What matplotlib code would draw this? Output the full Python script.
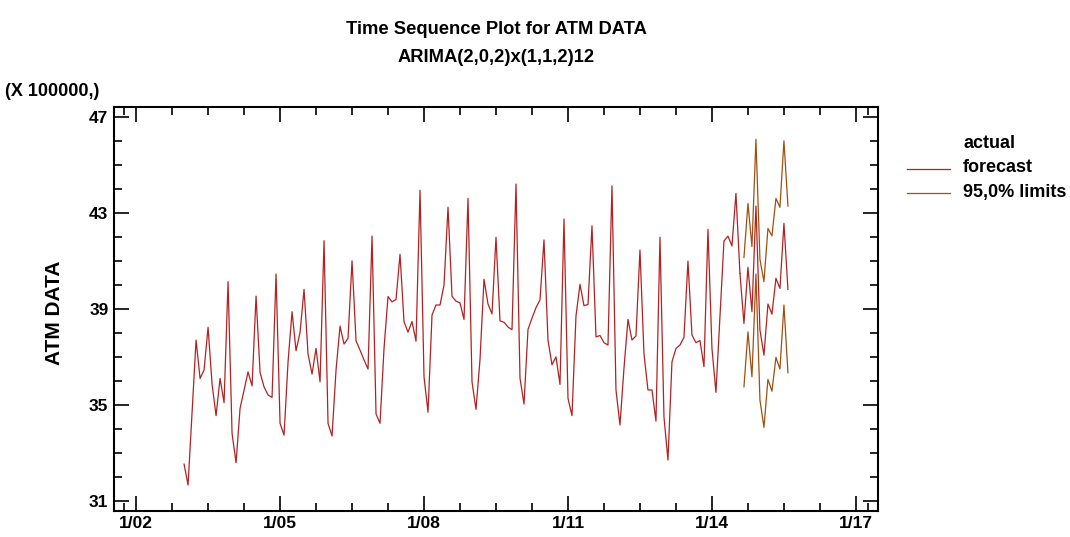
import matplotlib
matplotlib.use("Agg")
import matplotlib.pyplot as plt
from matplotlib.lines import Line2D

plt.rcParams['font.family'] = ['Liberation Sans', 'DejaVu Sans']
plt.rcParams['font.weight'] = 'bold'

# ---- data (units of 100000), monthly from Jan 2003 ----
start_year = 2003
actual = [32.54, 31.67, 34.7, 37.71, 36.11, 36.46, 38.24, 35.88, 34.56, 36.11, 35.1, 40.14,
          33.82, 32.6, 34.86, 35.63, 36.38, 35.8, 39.54, 36.36, 35.76, 35.42, 35.32, 40.46,
          34.24, 33.75, 36.8, 38.89, 37.26, 38.03, 39.82, 37.13, 36.29, 37.36, 35.97, 41.85,
          34.24, 33.71, 36.46, 38.29, 37.54, 37.78, 41.01, 37.68, 37.29, 36.88, 36.5, 42.04,
          34.63, 34.24, 37.36, 39.52, 39.3, 39.4, 41.28, 38.47, 38.04, 38.48, 37.66, 43.95,
          36.18, 34.7, 38.75, 39.17, 39.17, 40.0, 43.24, 39.53, 39.33, 39.26, 38.57, 43.61,
          35.97, 34.82, 36.9, 40.24, 39.21, 38.8, 41.99, 38.51, 38.45, 38.25, 38.14, 44.21,
          36.13, 35.04, 38.15, 38.62, 39.06, 39.38, 41.88, 37.71, 36.68, 37.01, 35.86, 42.75,
          35.28, 34.56, 38.71, 40.03, 39.14, 39.19, 42.47, 37.84, 37.9, 37.6, 37.5, 44.13,
          35.63, 34.17, 36.53, 38.57, 37.71, 37.88, 41.46, 37.13, 35.63, 35.63, 34.33, 41.99,
          34.51, 32.71, 36.8, 37.36, 37.5, 37.82, 41.0, 37.92, 37.6, 37.69, 36.6, 42.32,
          37.36, 35.53, 38.68, 41.83, 42.04, 41.63, 43.82, 40.49]
forecast = [38.40, 40.74, 38.89, 43.29, 38.13, 37.08, 39.21, 38.79, 40.28, 39.86, 42.57, 39.82]
upper = [41.15, 43.40, 41.60, 46.07, 41.07, 40.14, 42.36, 42.05, 43.61, 43.24, 46.01, 43.29]
lower = [35.76, 38.05, 36.18, 40.46, 35.21, 34.07, 36.07, 35.58, 36.99, 36.50, 39.17, 36.35]

xtick_years = [2002, 2005, 2008, 2011, 2014, 2017]
xtick_labels = ['1/02', '1/05', '1/08', '1/11', '1/14', '1/17']
ytick_vals = [31, 35, 39, 43, 47]

red = '#B22222'
brown = '#A0500F'

t_act = [start_year + i / 12 for i in range(len(actual))]
n0 = len(actual)
t_fc = [start_year + (n0 + i) / 12 for i in range(len(forecast))]

fig = plt.figure(figsize=(10.7, 5.37), dpi=100)
ax = fig.add_axes([114/1070, 1 - 510.7/537, (878-114)/1070, (510.7-106.7)/537])

ax.plot(t_act, actual, color=red, lw=0.9)
ax.plot([t_act[-1]] + t_fc, [actual[-1]] + forecast, color=red, lw=0.9)
ax.plot(t_fc, upper, color=brown, lw=0.9)
ax.plot(t_fc, lower, color=brown, lw=0.9)

ax.set_xlim(2001.54, 2017.46)
ax.set_ylim(30.6, 47.43)

ax.set_xticks(xtick_years)
ax.set_xticklabels(xtick_labels)
ax.set_xticks([y + 0.75 * k for y in xtick_years[:-1] for k in (1, 2, 3)] + [2001.75, 2017.25], minor=True)
ax.set_yticks(ytick_vals)
ax.set_yticks([v for v in range(31, 48) if v not in ytick_vals], minor=True)

ax.tick_params(which='both', direction='in', top=True, right=True, width=1.2,
               labelsize=12.5, colors='black', pad=4)
ax.tick_params(which='major', length=11)
ax.tick_params(which='minor', length=6)
for lab in ax.get_xticklabels() + ax.get_yticklabels():
    lab.set_fontweight('bold')
for s in ax.spines.values():
    s.set_linewidth(1.5)

fig.text(496/1070, 1 - 30/537, 'Time Sequence Plot for ATM DATA', ha='center', va='center',
         fontsize=13.2, fontweight='bold')
fig.text(496/1070, 1 - 58/537, 'ARIMA(2,0,2)x(1,1,2)12', ha='center', va='center',
         fontsize=13.2, fontweight='bold')
fig.text(5/1070, 1 - 91/537, '(X 100000,)', ha='left', va='center', fontsize=13, fontweight='bold')
fig.text(55/1070, 1 - 313/537, 'ATM DATA', ha='center', va='center', rotation=90,
         fontsize=15, fontweight='bold')

# legend
fs_leg = 13
fig.text(963/1070, 1 - 143/537, 'actual', ha='left', va='center', fontsize=fs_leg, fontweight='bold')
fig.text(963/1070, 1 - 167/537, 'forecast', ha='left', va='center', fontsize=fs_leg, fontweight='bold')
fig.text(963/1070, 1 - 192/537, '95,0% limits', ha='left', va='center', fontsize=fs_leg, fontweight='bold')
fig.add_artist(Line2D([907/1070, 950/1070], [1 - 169/537, 1 - 169/537], color=red, lw=0.9))
fig.add_artist(Line2D([907/1070, 950/1070], [1 - 193/537, 1 - 193/537], color=brown, lw=0.9))

fig.savefig('out.png', dpi=100)
